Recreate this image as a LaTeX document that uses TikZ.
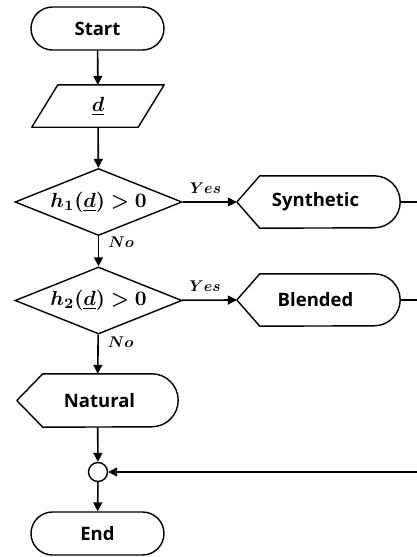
\documentclass[tikz,border=0pt]{standalone}
\usepackage{amsmath,bm,graphicx}
\usepackage{fontspec}
\setmainfont{Open Sans}
\usetikzlibrary{shapes.geometric,shapes.misc,arrows.meta}
\tikzset{
  x=1pt,y=1pt,
  every node/.style={font=\fontsize{18.5}{22}\selectfont\bfseries},
  shp/.style={draw,line width=1.4pt,inner sep=0pt},
  term/.style={shp,rounded rectangle,minimum width=133pt,minimum height=43pt},
  dec/.style={shp,diamond,aspect=2.5,minimum width=167pt,minimum height=67pt},
  disp/.style={inner sep=0pt,minimum height=52pt},
  conn/.style={line width=1.6pt,-{Triangle[length=9pt,width=9pt]}},
  plain/.style={line width=1.6pt},
  lbl/.style={font=\normalsize,inner sep=0pt},
  mth/.style={font=\normalsize}
}
\newcommand{\dispshape}[3]{% node, slant, radius
  \draw[line width=1.4pt,line join=round] (#1.west) -- ([xshift=#2]#1.north west) -- ([xshift=-#3]#1.north east)
    arc[start angle=90,end angle=-90,radius=#3] -- ([xshift=#2]#1.south west) -- cycle;}
\newcommand{\mathbigtxt}[1]{\scalebox{2.05}{$\bm{#1}$}}
\newcommand{\mathlbltxt}[1]{\scalebox{1.55}{$\bm{#1}$}}
\begin{document}
\begin{tikzpicture}
\useasboundingbox (0,0) rectangle (417,-557);
\node[term] (start) at (97.5,-28.5) {Start};
\node[inner sep=0pt,minimum width=106pt,minimum height=42pt] (d) at (98,-106) {};
\draw[line width=1.4pt,line join=round] ([xshift=13pt]d.north west) -- ([xshift=13pt]d.north east)
  -- ([xshift=-13pt]d.south east) -- ([xshift=-13pt]d.south west) -- cycle;
\node[mth] at (d) {\mathbigtxt{\underline{d}}};
\node[dec] (h1) at (98.5,-202) {};
\node[mth] at (h1) {\mathbigtxt{h_1(\underline{d}) > 0}};
\node[dec] (h2) at (98.5,-300.5) {};
\node[mth] at (h2) {\mathbigtxt{h_2(\underline{d}) > 0}};
\node[disp,minimum width=163pt] (syn) at (318.5,-202) {};
\node at ([xshift=-3]syn.center) {Synthetic};
\dispshape{syn}{23pt}{26pt}
\node[disp,minimum width=163pt] (bl) at (318.5,-300) {};
\node at ([xshift=-3]bl.center) {Blended};
\dispshape{bl}{23pt}{26pt}
\node[disp,minimum width=161pt,minimum height=53pt] (nat) at (97.5,-400.5) {};
\node at ([xshift=2]nat.center) {Natural};
\dispshape{nat}{26pt}{26.5pt}
\node[draw,circle,line width=1.4pt,minimum size=19pt,inner sep=0pt] (j) at (98,-472) {};
\node[term] (end) at (97.5,-533.5) {End};
\coordinate (r1) at (417,-202);
\coordinate (r2) at (417,-300);
\coordinate (r3) at (417,-472);
\draw[conn] (start) -- (d);
\draw[conn] (d) -- (h1);
\draw[conn] (h1) -- node[lbl,above=8pt,pos=0.42] {\mathlbltxt{Yes}} (syn.west);
\draw[conn] (h1) -- node[lbl,right=9pt,pos=0.2] {\mathlbltxt{No}} (h2);
\draw[conn] (h2) -- node[lbl,above=8pt,pos=0.42] {\mathlbltxt{Yes}} (bl.west);
\draw[conn] (h2) -- node[lbl,right=9pt,pos=0.2] {\mathlbltxt{No}} (nat);
\draw[conn] (nat) -- (j);
\draw[conn] (j) -- (end);
\draw[plain] (syn.east) -- (r1);
\draw[plain] (bl.east) -- (r2);
\draw[conn] (r3) -- (j);
\end{tikzpicture}
\end{document}
